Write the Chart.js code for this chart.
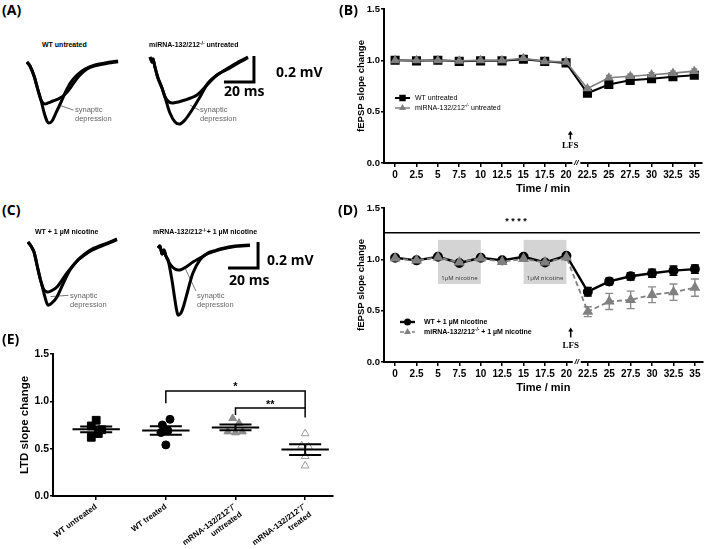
<!DOCTYPE html>
<html>
<head>
<meta charset="utf-8">
<title>miRNA-132/212 LTD</title>
<script src="https://cdn.jsdelivr.net/npm/chart.js@4.4.1/dist/chart.umd.min.js"></script>
<style>
  body { margin: 0; background: #fff; }
  #fig { position: relative; width: 709px; height: 549px; overflow: hidden; font-family: "Liberation Sans", Arial, sans-serif; }
  #fig canvas, #fig .t { position: absolute; }
  .t { white-space: nowrap; line-height: 1; color: #000; }
  .panel { font: bold 14px "Open Sans"; }
  .head { font: bold 7px "Liberation Sans"; }
  .note { font: 7.5px "Liberation Sans"; color: #666; line-height: 9px; }
  .bar { font: bold 14px "Open Sans"; }
  sup { font-size: 70%; vertical-align: 0; position: relative; top: -0.45em; }
</style>
</head>
<body>
<div id="fig">
  <canvas id="traceA1" width="111" height="91" style="left:21px;top:49px"></canvas>
  <canvas id="traceA2" width="117" height="91" style="left:144px;top:44px"></canvas>
  <canvas id="traceC1" width="111" height="91" style="left:22px;top:229px"></canvas>
  <canvas id="traceC2" width="117" height="91" style="left:152px;top:235px"></canvas>
  <canvas id="chartB" width="369" height="200" style="left:340px;top:0px"></canvas>
  <canvas id="chartD" width="369" height="200" style="left:340px;top:199px"></canvas>
  <canvas id="chartE" width="345" height="209" style="left:0px;top:340px"></canvas>

  <div class="t panel" style="left:2px;top:0px">(A)</div>
  <div class="t panel" style="left:339px;top:0px">(B)</div>
  <div class="t panel" style="left:2px;top:200px">(C)</div>
  <div class="t panel" style="left:338px;top:200px">(D)</div>
  <div class="t panel" style="left:2px;top:329px">(E)</div>

  <div class="t head" style="left:42px;top:41px">WT untreated</div>
  <div class="t head" style="left:149px;top:41px">miRNA-132/212<sup>-/-</sup> untreated</div>
  <div class="t bar" style="left:276px;top:62px">0.2 mV</div>
  <div class="t bar" style="left:224px;top:81px">20 ms</div>
  <div class="t note" style="left:75px;top:105px">synaptic<br>depression</div>
  <div class="t note" style="left:200px;top:105px">synaptic<br>depression</div>

  <div class="t head" style="left:35px;top:228px">WT + 1 µM nicotine</div>
  <div class="t head" style="left:153px;top:228px">mRNA-132/212<sup>-/-</sup>+ 1 µM nicotine</div>
  <div class="t bar" style="left:267px;top:250px">0.2 mV</div>
  <div class="t bar" style="left:229px;top:270px">20 ms</div>
  <div class="t note" style="left:70px;top:291px">synaptic<br>depression</div>
  <div class="t note" style="left:197px;top:291px">synaptic<br>depression</div>
</div>

<script>
// ---- A / C: example fEPSP traces, [time ms, amplitude mV] ----
const wtUntreatedBaseline = [[0,0],[2,-0.031],[4.7,-0.108],[7.3,-0.215],[9.3,-0.292],[11.3,-0.385],[13.3,-0.454],[14.7,-0.469],[16.7,-0.454],[19.3,-0.392],[22.7,-0.308],[26,-0.223],[29.3,-0.154],[33.3,-0.1],[38.7,-0.054],[45.3,-0.023],[52,-0.008],[60.7,0.008]];
const wtUntreatedLtd = [[0,0],[2,-0.031],[4.7,-0.108],[7.3,-0.215],[9.3,-0.292],[10.7,-0.315],[12,-0.323],[14,-0.315],[17.3,-0.3],[20.7,-0.285],[24,-0.262],[27.3,-0.223],[30.7,-0.169],[34.7,-0.108],[40,-0.054],[45.3,-0.03],[52,-0.014],[60.7,0.002]];
const koUntreatedBaseline = [[0,0],[1.3,-0.038],[2,-0.015],[3.3,-0.077],[5.3,-0.162],[8,-0.238],[10,-0.308],[13.3,-0.431],[16.7,-0.5],[20,-0.515],[23.3,-0.485],[28,-0.408],[33.3,-0.308],[38.7,-0.2],[44.7,-0.138],[53.3,-0.077],[60,-0.031],[65.3,0]];
const koUntreatedLtd = [[0,0],[1.3,-0.038],[2,-0.015],[3.3,-0.077],[5.3,-0.162],[8,-0.238],[10,-0.308],[12.7,-0.346],[15.3,-0.354],[23.3,-0.331],[31.3,-0.292],[38,-0.215],[44.7,-0.138],[53.3,-0.084],[60,-0.038],[65.3,-0.006]];
const wtNicotineBaseline = [[0,0],[2,-0.031],[4,-0.077],[6,-0.177],[8,-0.277],[9.3,-0.331],[11.3,-0.423],[13.3,-0.485],[16,-0.469],[19.3,-0.423],[23.3,-0.323],[28,-0.215],[32.7,-0.146],[37,-0.1],[42.7,-0.054],[52.7,-0.008],[59.3,0.023]];
const wtNicotineLtd = [[0,0],[2,-0.031],[4,-0.077],[6,-0.177],[8,-0.277],[9.3,-0.331],[10.7,-0.369],[12.7,-0.385],[15.3,-0.377],[19.3,-0.346],[26,-0.238],[32.7,-0.146],[37,-0.106],[42.7,-0.062],[52.7,-0.014],[59.3,0.018]];
const koNicotineBaseline = [[0,0],[1.3,0.015],[2.7,-0.046],[4,-0.015],[5.3,-0.062],[6.7,-0.092],[9.3,-0.246],[11.3,-0.4],[13.3,-0.515],[15.3,-0.5],[17.3,-0.438],[20,-0.323],[23.3,-0.192],[28,-0.092],[33.3,-0.038],[37.3,-0.023],[41.3,-0.008],[51.3,0.015],[61.3,0.023]];
const koNicotineLtd = [[0,0],[1.3,0.015],[2.7,-0.046],[4,-0.015],[5.3,-0.062],[8,-0.123],[11.3,-0.162],[14.7,-0.169],[18.7,-0.146],[23.3,-0.108],[28,-0.077],[32.7,-0.046],[41.3,-0.012],[51.3,0.012],[61.3,0.02]];
// 20 ms / 0.2 mV calibration bars and label pointers
const scaleBarA = [[49.3,-0.192],[69.3,-0.192],[69.3,0.008]];
const scaleBarC = [[46.7,-0.154],[66.7,-0.154],[66.7,0.046]];
const pointerA1 = [[21,-0.33],[31,-0.37]];
const pointerA2 = [[26.7,-0.37],[33,-0.41]];
const pointerC1 = [[15,-0.42],[27,-0.41]];
const pointerC2 = [[18,-0.154],[25.3,-0.331]];

// ---- B / D: fEPSP slope over time ----
const timePoints = [0, 2.5, 5, 7.5, 10, 12.5, 15, 17.5, 20, 22.5, 25, 27.5, 30, 32.5, 35];
const wtUntreated    = [1.0, 0.995, 1.0, 0.99, 0.995, 0.995, 1.01, 0.99, 0.975, 0.68, 0.765, 0.805, 0.82, 0.84, 0.855];
const wtUntreatedSem = [0.01, 0.01, 0.01, 0.01, 0.01, 0.01, 0.01, 0.01, 0.01, 0.015, 0.02, 0.02, 0.02, 0.02, 0.02];
const koUntreated    = [1.0, 1.0, 1.0, 0.995, 1.0, 1.0, 1.02, 0.99, 0.985, 0.725, 0.83, 0.845, 0.86, 0.875, 0.895];
const koUntreatedSem = [0.01, 0.01, 0.01, 0.01, 0.01, 0.01, 0.01, 0.01, 0.01, 0.015, 0.022, 0.02, 0.02, 0.02, 0.02];
const wtNicotine    = [1.015, 0.99, 1.025, 0.965, 1.015, 0.99, 1.025, 0.97, 1.035, 0.685, 0.785, 0.835, 0.865, 0.89, 0.905];
const wtNicotineSem = [0.01, 0.01, 0.01, 0.01, 0.01, 0.015, 0.01, 0.01, 0.01, 0.042, 0.032, 0.036, 0.04, 0.045, 0.04];
const koNicotine    = [1.01, 0.99, 1.02, 0.97, 1.01, 0.975, 1.005, 0.97, 1.02, 0.49, 0.59, 0.605, 0.655, 0.68, 0.725];
const koNicotineSem = [0.01, 0.01, 0.01, 0.01, 0.01, 0.015, 0.01, 0.01, 0.01, 0.048, 0.078, 0.085, 0.077, 0.08, 0.084];
const nicotineWindows = [[5, 10], [15, 20]];

// ---- E: LTD slope change per slice ----
const groupLabels = [['WT untreated'], ['WT treated'], ['mRNA-132/212⁻/⁻', 'untreated'], ['mRNA-132/212⁻/⁻', 'treated']];
const ltdWtUntreated  = [0.80, 0.74, 0.70, 0.66, 0.62];
const ltdWtUntreatedX = [1.0, 0.93, 1.08, 1.03, 0.93];
const ltdWtTreated    = [0.81, 0.75, 0.69, 0.67, 0.54];
const ltdWtTreatedX   = [2.06, 1.95, 2.03, 1.93, 2.0];
const ltdKoUntreated  = [0.82, 0.77, 0.68, 0.67, 0.68];
const ltdKoUntreatedX = [2.96, 3.05, 2.89, 3.0, 3.1];
const ltdKoTreated    = [0.66, 0.53, 0.52, 0.42, 0.32];
const ltdKoTreatedX   = [4.0, 3.95, 4.05, 4.0, 4.0];

const SANS = '"Liberation Sans", Arial, sans-serif';
const toXY = arr => arr.map(p => ({ x: p[0], y: p[1] }));
const zipXY = (xs, ys) => ys.map((v, i) => ({ x: xs[i], y: v }));

// small canvas helpers
function marker(ctx, shape, x, y, r, fill, stroke) {
  ctx.beginPath();
  if (shape === 'rect') ctx.rect(x - r * 0.72, y - r * 0.72, r * 1.44, r * 1.44);
  else if (shape === 'circle') ctx.arc(x, y, r, 0, Math.PI * 2);
  else { ctx.moveTo(x, y - r); ctx.lineTo(x + r * 0.87, y + r * 0.5); ctx.lineTo(x - r * 0.87, y + r * 0.5); ctx.closePath(); }
  ctx.fillStyle = fill; ctx.fill();
  if (stroke) { ctx.strokeStyle = stroke; ctx.lineWidth = 1; ctx.stroke(); }
}
function richText(ctx, parts, x, y, size, weight) {
  ctx.textBaseline = 'middle'; ctx.textAlign = 'left';
  parts.forEach(p => {
    const s = p.sup ? size * 0.65 : size;
    ctx.font = `${weight || 'normal'} ${s}px ${SANS}`;
    ctx.fillText(p.t, x, p.sup ? y - size * 0.35 : y);
    x += ctx.measureText(p.t).width;
  });
}

// drawing of boxes, error bars, labels, legend and axis break
const deco = {
  id: 'deco',
  beforeDatasetsDraw(chart, args, o) {
    const { ctx, scales: { x, y } } = chart;
    ctx.save();
    (o.boxes || []).forEach(b => {
      const l = x.getPixelForValue(b.x0), r = x.getPixelForValue(b.x1);
      const t = y.getPixelForValue(b.y1), btm = y.getPixelForValue(b.y0);
      ctx.fillStyle = b.color; ctx.fillRect(l, t, r - l, btm - t);
    });
    chart.data.datasets.forEach((ds, i) => {
      if (!ds.errors) return;
      const pts = chart.getDatasetMeta(i).data;
      ctx.strokeStyle = ds.errorColor; ctx.lineWidth = 1.4; ctx.setLineDash([]);
      pts.forEach((p, j) => {
        const v = ds.data[j].y, e = ds.errors[j];
        const t = y.getPixelForValue(v + e), btm = y.getPixelForValue(v - e);
        ctx.beginPath();
        ctx.moveTo(p.x, t); ctx.lineTo(p.x, btm);
        ctx.moveTo(p.x - o.cap, t); ctx.lineTo(p.x + o.cap, t);
        ctx.moveTo(p.x - o.cap, btm); ctx.lineTo(p.x + o.cap, btm);
        ctx.stroke();
      });
    });
    ctx.restore();
  },
  afterDatasetsDraw(chart, args, o) {
    const { ctx, chartArea: area, scales: { x, y } } = chart;
    ctx.save();
    (o.texts || []).forEach(t => {
      ctx.font = t.font; ctx.fillStyle = t.color || '#000';
      ctx.textAlign = 'center'; ctx.textBaseline = 'middle';
      ctx.fillText(t.text, x.getPixelForValue(t.x), y.getPixelForValue(t.y));
    });
    (o.arrows || []).forEach(a => {
      const px = x.getPixelForValue(a.x), top = y.getPixelForValue(a.y1), btm = y.getPixelForValue(a.y0);
      ctx.strokeStyle = '#000'; ctx.fillStyle = '#000'; ctx.lineWidth = 1.5;
      ctx.beginPath(); ctx.moveTo(px, btm); ctx.lineTo(px, top + 3); ctx.stroke();
      ctx.beginPath(); ctx.moveTo(px, top); ctx.lineTo(px + 2.5, top + 4); ctx.lineTo(px - 2.5, top + 4); ctx.closePath(); ctx.fill();
    });
    if (o.legend) {
      const L = o.legend;
      L.items.forEach((it, k) => {
        const ly = area.top + L.dy + k * L.gap, lx = area.left + L.dx;
        ctx.strokeStyle = it.color; ctx.lineWidth = it.width; ctx.setLineDash(it.dash || []);
        ctx.beginPath(); ctx.moveTo(lx, ly); ctx.lineTo(lx + L.len, ly); ctx.stroke();
        ctx.setLineDash([]);
        marker(ctx, it.shape, lx + L.len / 2, ly, it.r, it.color);
        ctx.fillStyle = '#000';
        richText(ctx, it.parts, lx + L.len + L.textGap, ly, L.size, L.weight);
      });
    }
    ctx.restore();
  },
  afterDraw(chart, args, o) {
    if (o.axisBreak === undefined) return;
    const { ctx, scales: { x, y } } = chart;
    const px = x.getPixelForValue(o.axisBreak), py = y.getPixelForValue(0);
    ctx.save();
    ctx.fillStyle = '#fff'; ctx.fillRect(px - 4, py - 3, 8, 6);
    ctx.fillStyle = '#000'; ctx.font = `italic bold 8px ${SANS}`;
    ctx.textAlign = 'center'; ctx.textBaseline = 'middle';
    ctx.fillText('//', px, py);
    ctx.restore();
  }
};

const base = { responsive: false, animation: false, devicePixelRatio: 1, events: [] };

function traceChart(id, xMax, lines) {
  new Chart(document.getElementById(id), {
    type: 'line',
    data: {
      datasets: lines.map(l => ({
        data: toXY(l.data), borderColor: l.color || '#000', borderWidth: l.width || 3,
        pointRadius: 0, tension: l.tension === undefined ? 0.3 : l.tension, fill: false,
        borderJoinStyle: 'miter', borderCapStyle: 'butt'
      }))
    },
    options: {
      ...base,
      layout: { padding: 0 },
      plugins: { legend: { display: false }, tooltip: { enabled: false } },
      scales: {
        x: { type: 'linear', display: false, min: -4, max: xMax },
        y: { type: 'linear', display: false, min: -0.6, max: 0.1 }
      }
    }
  });
}

traceChart('traceA1', 70, [
  { data: wtUntreatedBaseline }, { data: wtUntreatedLtd },
  { data: pointerA1, color: '#777', width: 1, tension: 0 }
]);
traceChart('traceA2', 74, [
  { data: koUntreatedBaseline }, { data: koUntreatedLtd },
  { data: pointerA2, color: '#777', width: 1, tension: 0 },
  { data: scaleBarA, width: 3, tension: 0 }
]);
traceChart('traceC1', 70, [
  { data: wtNicotineBaseline }, { data: wtNicotineLtd },
  { data: pointerC1, color: '#777', width: 1, tension: 0 }
]);
traceChart('traceC2', 74, [
  { data: koNicotineBaseline }, { data: koNicotineLtd },
  { data: pointerC2, color: '#777', width: 1, tension: 0 },
  { data: scaleBarC, width: 3, tension: 0 }
]);

const axisLine = { display: true, color: '#000', width: 2 };
const tickGrid = { display: true, drawOnChartArea: false, drawTicks: true, tickLength: 4, color: '#000', lineWidth: 1.5 };

function timeScales() {
  return {
    x: {
      type: 'linear', min: -1.3, max: 35.9,
      border: axisLine, grid: tickGrid,
      ticks: {
        stepSize: 2.5, includeBounds: false, autoSkip: false, maxRotation: 0, padding: 2,
        color: '#000', font: { family: SANS, weight: 'bold', size: 10 }, callback: v => String(v)
      },
      title: { display: true, text: 'Time / min', color: '#000', font: { family: SANS, weight: 'bold', size: 11 }, padding: { top: 0, bottom: 4 } },
      afterFit: s => { s.height = 37; }
    },
    y: {
      type: 'linear', min: 0, max: 1.5,
      border: axisLine, grid: { ...tickGrid, tickLength: 3 },
      ticks: { stepSize: 0.5, padding: 1, color: '#000', font: { family: SANS, weight: 'bold', size: 9.5 }, callback: v => v.toFixed(1) },
      title: { display: true, text: 'fEPSP slope change', color: '#000', font: { family: SANS, weight: 'bold', size: 9.5 }, padding: 0 },
      afterFit: s => { s.width = 28; }
    }
  };
}

const koLabel = rest => [{ t: 'miRNA-132/212' }, { t: '-/-', sup: true }, { t: rest }];

// ---- B ----
new Chart(document.getElementById('chartB'), {
  type: 'line',
  data: {
    datasets: [
      { data: zipXY(timePoints, koUntreated), errors: koUntreatedSem, errorColor: '#7f7f7f',
        borderColor: '#7f7f7f', backgroundColor: '#7f7f7f', borderWidth: 1.6, pointStyle: 'triangle', pointRadius: 4, tension: 0 },
      { data: zipXY(timePoints, wtUntreated), errors: wtUntreatedSem, errorColor: '#000',
        borderColor: '#000', backgroundColor: '#000', borderWidth: 2, pointStyle: 'rect', pointRadius: 5, tension: 0 }
    ]
  },
  options: {
    ...base,
    layout: { padding: { left: 16, top: 9, right: 6, bottom: 0 } },
    scales: timeScales(),
    plugins: {
      legend: { display: false }, tooltip: { enabled: false },
      deco: {
        cap: 3,
        arrows: [{ x: 20.5, y0: 0.23, y1: 0.315 }],
        texts: [{ text: 'LFS', x: 20.5, y: 0.165, font: 'bold 9px "Liberation Serif"' }],
        axisBreak: 21.2,
        legend: {
          dx: 11, dy: 89, gap: 10, len: 15, textGap: 5, size: 7, weight: 'normal',
          items: [
            { parts: [{ t: 'WT untreated' }], color: '#000', width: 2, shape: 'rect', r: 4.5 },
            { parts: koLabel(' untreated'), color: '#7f7f7f', width: 1.5, shape: 'triangle', r: 4 }
          ]
        }
      }
    }
  },
  plugins: [deco]
});

// ---- D ----
new Chart(document.getElementById('chartD'), {
  type: 'line',
  data: {
    datasets: [
      { data: [{ x: -1.2, y: 1.26 }, { x: 35.6, y: 1.26 }], borderColor: '#000', borderWidth: 1.5, pointRadius: 0 },
      { data: zipXY(timePoints, koNicotine), errors: koNicotineSem, errorColor: '#8a8a8a',
        borderColor: '#808080', backgroundColor: '#808080', borderWidth: 1.8, borderDash: [5, 3],
        pointStyle: 'triangle', pointRadius: 4.5, tension: 0 },
      { data: zipXY(timePoints, wtNicotine), errors: wtNicotineSem, errorColor: '#000',
        borderColor: '#000', backgroundColor: '#000', borderWidth: 2.4, pointStyle: 'circle', pointRadius: 3.8, tension: 0 }
    ]
  },
  options: {
    ...base,
    layout: { padding: { left: 16, top: 9, right: 6, bottom: 0 } },
    scales: timeScales(),
    plugins: {
      legend: { display: false }, tooltip: { enabled: false },
      deco: {
        cap: 4,
        boxes: nicotineWindows.map(w => ({ x0: w[0], x1: w[1], y0: 0.76, y1: 1.19, color: '#d4d4d4' })),
        arrows: [{ x: 20.5, y0: 0.24, y1: 0.335 }],
        texts: [
          { text: 'LFS', x: 20.5, y: 0.155, font: 'bold 9px "Liberation Serif"' },
          { text: '* * * *', x: 14.1, y: 1.365, font: `bold 9px ${SANS}` },
          ...nicotineWindows.map(w => ({ text: '1µM nicotine', x: (w[0] + w[1]) / 2, y: 0.815, font: '6px "Open Sans"', color: '#333' }))
        ],
        axisBreak: 21.2,
        legend: {
          dx: 16, dy: 114, gap: 10, len: 15, textGap: 9, size: 7, weight: 'bold',
          items: [
            { parts: [{ t: 'WT + 1 µM nicotine' }], color: '#000', width: 2.4, shape: 'circle', r: 3.5 },
            { parts: koLabel(' + 1 µM nicotine'), color: '#808080', width: 1.6, dash: [4, 2], shape: 'triangle', r: 4 }
          ]
        }
      }
    }
  },
  plugins: [deco]
});

// ---- E ----
const groups = [
  { y: ltdWtUntreated, x: ltdWtUntreatedX, shape: 'rect', fill: '#000', stroke: '#000', r: 5.5, at: 1 },
  { y: ltdWtTreated, x: ltdWtTreatedX, shape: 'circle', fill: '#000', stroke: '#000', r: 4, at: 2 },
  { y: ltdKoUntreated, x: ltdKoUntreatedX, shape: 'triangle', fill: '#8c8c8c', stroke: '#8c8c8c', r: 4.5, at: 3 },
  { y: ltdKoTreated, x: ltdKoTreatedX, shape: 'triangle', fill: '#fff', stroke: '#9a9a9a', r: 4.5, at: 4 }
];
const meanSem = vals => {
  const m = vals.reduce((a, b) => a + b, 0) / vals.length;
  const sd = Math.sqrt(vals.reduce((a, b) => a + (b - m) ** 2, 0) / (vals.length - 1));
  return { m, sem: sd / Math.sqrt(vals.length) };
};

const meanBars = {
  id: 'meanBars',
  afterDatasetsDraw(chart) {
    const { ctx, scales: { x, y } } = chart;
    ctx.save(); ctx.strokeStyle = '#000'; ctx.lineWidth = 2;
    groups.forEach(g => {
      const { m, sem } = meanSem(g.y);
      const seg = (x0, x1, v) => { ctx.moveTo(x.getPixelForValue(x0), y.getPixelForValue(v)); ctx.lineTo(x.getPixelForValue(x1), y.getPixelForValue(v)); };
      ctx.beginPath();
      seg(g.at - 0.34, g.at + 0.34, m);
      seg(g.at - 0.23, g.at + 0.23, m + sem);
      seg(g.at - 0.23, g.at + 0.23, m - sem);
      ctx.moveTo(x.getPixelForValue(g.at), y.getPixelForValue(m + sem));
      ctx.lineTo(x.getPixelForValue(g.at), y.getPixelForValue(m - sem));
      ctx.stroke();
    });
    ctx.fillStyle = '#000'; ctx.font = `bold 11px ${SANS}`; ctx.textAlign = 'center'; ctx.textBaseline = 'middle';
    ctx.fillText('*', x.getPixelForValue(3), y.getPixelForValue(1.15));
    ctx.fillText('**', x.getPixelForValue(3.5), y.getPixelForValue(0.965));
    ctx.restore();
  }
};

new Chart(document.getElementById('chartE'), {
  type: 'scatter',
  data: {
    datasets: [
      { type: 'line', data: [{ x: 2, y: 0.98 }, { x: 2, y: 1.11 }, { x: 4, y: 1.11 }, { x: 4, y: 0.83 }],
        borderColor: '#000', borderWidth: 1.5, pointRadius: 0, tension: 0 },
      { type: 'line', data: [{ x: 3, y: 0.855 }, { x: 3, y: 0.93 }, { x: 4, y: 0.93 }],
        borderColor: '#000', borderWidth: 1.5, pointRadius: 0, tension: 0 },
      ...groups.map(g => ({
        data: zipXY(g.x, g.y), pointStyle: g.shape, pointRadius: g.r,
        backgroundColor: g.fill, borderColor: g.stroke, pointBorderWidth: 1
      }))
    ]
  },
  options: {
    ...base,
    layout: { padding: { left: 18, top: 14, right: 12, bottom: 0 } },
    plugins: { legend: { display: false }, tooltip: { enabled: false } },
    scales: {
      x: {
        type: 'linear', min: 0.38, max: 4.4,
        border: axisLine, grid: tickGrid,
        ticks: {
          stepSize: 1, includeBounds: false, autoSkip: false, minRotation: 36, maxRotation: 36, padding: 2,
          color: '#000', font: { family: SANS, weight: 'bold', size: 8 },
          callback: v => groupLabels[v - 1] || ''
        },
        afterFit: s => { s.height = 53; }
      },
      y: {
        type: 'linear', min: 0, max: 1.5,
        border: axisLine, grid: { ...tickGrid, tickLength: 3 },
        ticks: { stepSize: 0.5, padding: 1, color: '#000', font: { family: SANS, weight: 'bold', size: 10.5 }, callback: v => v.toFixed(1) },
        title: { display: true, text: 'LTD slope change', color: '#000', font: { family: SANS, weight: 'bold', size: 11.5 }, padding: 0 },
        afterFit: s => { s.width = 35; }
      }
    }
  },
  plugins: [meanBars]
});
</script>
</body>
</html>
